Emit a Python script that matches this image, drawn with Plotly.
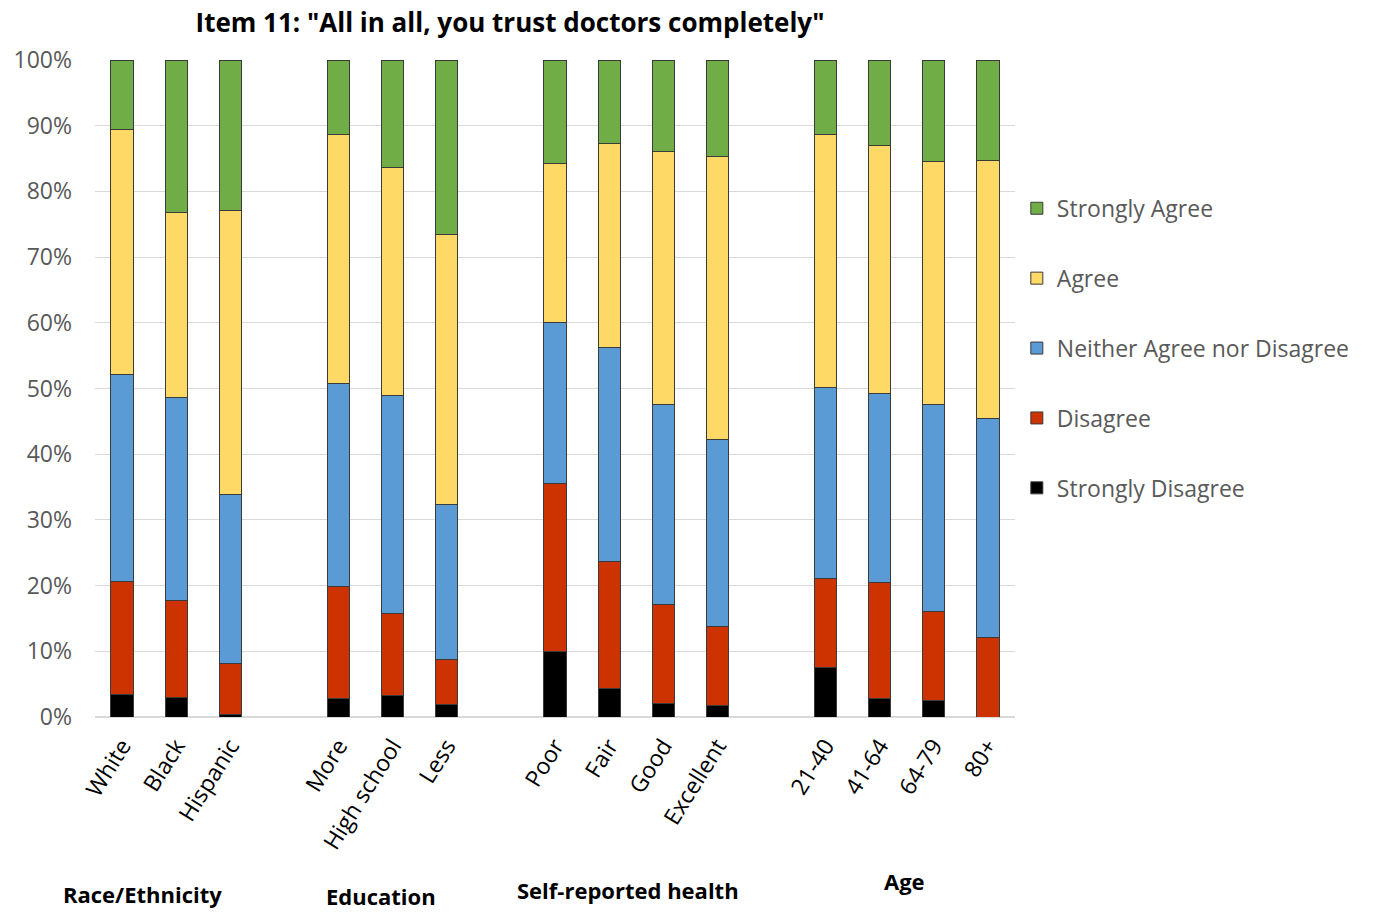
import plotly.graph_objects as go

# Categories (with spacer slots between groups)
categories = ["White", "Black", "Hispanic",
              "More", "High school", "Less",
              "Poor", "Fair", "Good", "Excellent",
              "21-40", "41-64", "64-79", "80+"]
category_order = ["White", "Black", "Hispanic", " ",
                  "More", "High school", "Less", "  ",
                  "Poor", "Fair", "Good", "Excellent", "   ",
                  "21-40", "41-64", "64-79", "80+"]

strongly_disagree = [3.4, 3.0, 0.4, 2.8, 3.2, 1.9, 9.9, 4.4, 2.1, 1.7, 7.5, 2.8, 2.5, 0.0]
disagree = [17.2, 14.8, 7.8, 17.0, 12.6, 6.9, 25.7, 19.3, 15.0, 12.0, 13.6, 17.6, 13.5, 12.1]
neither = [31.5, 30.8, 25.7, 31.0, 33.1, 23.5, 24.5, 32.6, 30.5, 28.6, 29.0, 28.9, 31.5, 33.4]
agree = [37.3, 28.2, 43.2, 37.9, 34.8, 41.1, 24.1, 31.0, 38.4, 43.0, 38.5, 37.7, 37.0, 39.2]
strongly_agree = [10.6, 23.2, 22.9, 11.3, 16.3, 26.6, 15.8, 12.7, 14.0, 14.7, 11.4, 13.0, 15.5, 15.3]

group_labels = ["Race/Ethnicity", "Education", "Self-reported health", "Age"]
group_label_x = [0.37, 4.79, 9.35, 14.45]
group_label_y = [-0.269, -0.272, -0.263, -0.250]

series = [
    ("Strongly Disagree", strongly_disagree, "#000000"),
    ("Disagree", disagree, "#CC3300"),
    ("Neither Agree nor Disagree", neither, "#5B9BD5"),
    ("Agree", agree, "#FFD966"),
    ("Strongly Agree", strongly_agree, "#70AD47"),
]

FONT = "Open Sans"

fig = go.Figure()
for i, (name, vals, color) in enumerate(series):
    fig.add_trace(go.Bar(
        x=categories, y=[v / 100 for v in vals], name=name,
        legendgroup=name, legendrank=len(series) - i,
        marker=dict(color=color, line=dict(color="#3a3a3a", width=1)),
    ))

for lbl, gx, gy in zip(group_labels, group_label_x, group_label_y):
    fig.add_annotation(text="<b>" + lbl + "</b>", x=gx, xref="x", y=gy, yref="paper",
                       showarrow=False, font=dict(family=FONT, size=22, color="#000000"),
                       xanchor="center", yanchor="middle")

fig.update_layout(
    width=1373, height=912,
    barmode="stack", bargap=0.59,
    plot_bgcolor="white", paper_bgcolor="white",
    margin=dict(l=95, r=358, t=60, b=195),
    title=dict(text='<b>Item 11: "All in all, you trust doctors completely"</b>',
               x=510 / 1373, xref="container", xanchor="center",
               y=1 - 23 / 912, yref="container", yanchor="middle",
               font=dict(family=FONT, size=26, color="#000000")),
    legend=dict(x=1.002, xanchor="left", y=0.807, yanchor="top",
                traceorder="grouped", tracegroupgap=37,
                font=dict(family=FONT, size=23, color="#595959"),
                bgcolor="rgba(0,0,0,0)"),
    xaxis=dict(type="category", categoryorder="array", categoryarray=category_order,
               tickangle=-58, tickfont=dict(family=FONT, size=23, color="#000000"),
               showgrid=False, showline=False, ticks="", range=[-0.5, 16.5],
               ticklabelstandoff=10),
    yaxis=dict(range=[0, 1], tickformat=".0%", dtick=0.1,
               tickfont=dict(family=FONT, size=23, color="#595959"),
               gridcolor="#D9D9D9", gridwidth=1, zeroline=True, zerolinecolor="#D9D9D9",
               showline=False, ticks="", ticklabelstandoff=22),
    showlegend=True,
)

fig.write_html("out.html")
